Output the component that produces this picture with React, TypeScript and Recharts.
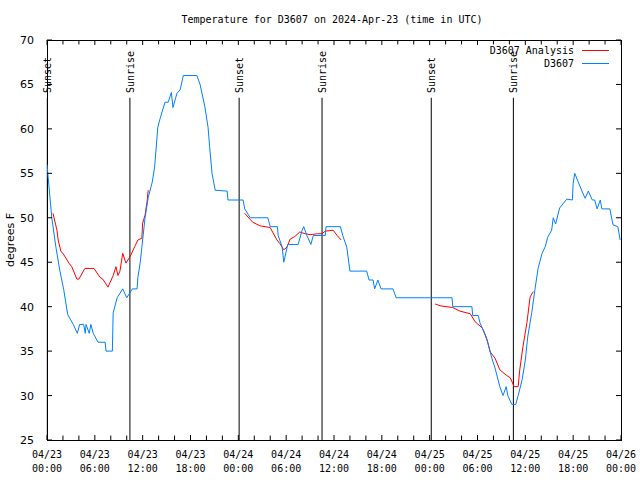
import { LineChart, Line, XAxis, YAxis, ReferenceLine } from "recharts"

// hours since 04/23 00:00 UTC
const obsHours = [0, 0.1, 0.6, 1.1, 1.6, 2.1, 2.6, 3.3, 3.8, 4.1, 4.6, 4.8, 4.9, 5.3, 5.5, 5.8, 6.4, 7.3, 7.4, 8.2, 8.3, 8.8, 9.5, 10.0, 10.7, 11.3, 11.4, 11.7, 11.9, 12.3, 12.7, 13.2, 13.5, 13.9, 14.2, 14.8, 15.2, 15.6, 15.8, 16.3, 16.7, 17.1, 18.8, 19.2, 19.8, 20.2, 20.4, 20.7, 21.1, 22.6, 22.7, 24.6, 24.8, 25.5, 27.7, 28.0, 28.9, 29.0, 29.5, 29.7, 30.2, 31.5, 32.0, 32.2, 32.6, 33.1, 33.4, 34.9, 35.0, 36.8, 37.1, 37.6, 38.0, 40.1, 40.4, 40.9, 41.1, 41.5, 41.9, 43.4, 43.8, 48.0, 50.8, 50.9, 53.3, 53.4, 54.1, 54.3, 54.9, 55.3, 55.8, 56.2, 56.8, 57.2, 57.6, 57.8, 58.3, 58.8, 59.1, 59.6, 60.0, 60.3, 60.8, 61.2, 61.6, 62.1, 62.5, 62.8, 63.3, 63.5, 63.8, 64.3, 65.2, 65.9, 66.0, 66.2, 66.6, 67.2, 67.5, 67.9, 68.4, 68.7, 69.0, 69.4, 69.6, 70.6, 71.0, 71.6, 71.9]
const obsTemps = [56, 55, 50, 46.8, 44.1, 41.9, 39.1, 38, 37, 38, 38, 37, 38, 37, 38, 37, 36, 36, 35, 35, 39.3, 41, 42, 41, 42, 42, 43.3, 45, 46.7, 50, 52.3, 54, 55.7, 60.2, 61.2, 63, 63, 64.1, 62.4, 64, 64.4, 66, 66, 65, 62.5, 60.2, 58, 55, 53.1, 53, 52, 52, 51, 50, 50, 49, 49, 48, 46.7, 45, 47, 47, 48.6, 49, 48, 47, 48, 48, 49, 49, 48, 46.7, 44, 44, 43, 43, 42, 43, 42, 42, 41, 41, 41, 40, 40, 39, 39, 38.2, 37, 35.9, 34.2, 33.1, 31, 30, 31, 30, 29, 29, 30, 31.8, 34, 36.6, 39.3, 41.9, 44.3, 46, 46.75, 47.8, 48.6, 50, 49.3, 51.1, 52.1, 52, 53.9, 55, 54.1, 52.8, 52.2, 53, 52, 52, 51, 52, 51, 51, 49.2, 49, 47.5]

// analysis has gaps (null breaks the line)
const anaHours = [0.75, 1.25, 1.4, 1.75, 2.0, 2.75, 3.1, 3.75, 4.0, 4.75, 5.9, 6.65, 7.0, 7.65, 8.3, 8.65, 8.9, 9.15, 9.5, 9.9, 10.4, 11.0, 11.4, 11.9, 12.0, 12.3, 12.55, 12.7,
  18,
  24.8, 25.5, 25.8, 26.7, 28.0, 28.35, 28.85, 29.2, 29.7, 30.1, 30.5, 31.1, 31.7, 32.4, 33.0, 33.9, 34.5, 34.9, 35.9, 36.4, 36.9,
  42,
  48.7, 49.3, 50.9, 51.8, 53.1, 53.7, 54.6, 55.2, 55.6, 56.2, 56.8, 57.6, 58.1, 58.6, 59.1, 59.3, 59.7, 60.2, 60.6, 61.0]
const anaTemps = [50.5, 48.6, 47.5, 46.2, 46, 44.9, 44.5, 43.1, 43.1, 44.3, 44.3, 43.3, 43.1, 42.2, 43.5, 44.5, 43.5, 44, 46, 44.9, 45.6, 46.75, 47.5, 47.7, 49.4, 50.3, 51.8, 53.1,
  null,
  50.5, 49.8, 49.5, 49.1, 48.9, 48.3, 47.5, 47.1, 46.4, 46.7, 47.6, 47.9, 48.4, 48.2, 48.1, 48.2, 48.2, 48.5, 48.6, 48, 47.5,
  null,
  40.3, 40.1, 39.9, 39.5, 39.2, 38.3, 37.6, 36.3, 34.9, 34.2, 32.9, 32.3, 32, 31, 31, 32.9, 35.5, 38.2, 41.1, 41.7]

const sunHours = [0.04, 10.4, 24.1, 34.5, 48.2, 58.5]
const sunLabels = ["Sunset", "Sunrise", "Sunset", "Sunrise", "Sunset", "Sunrise"]

const xTicks = [0, 6, 12, 18, 24, 30, 36, 42, 48, 54, 60, 66, 72]
const xTickDates = ["04/23", "04/23", "04/23", "04/23", "04/24", "04/24", "04/24", "04/24", "04/25", "04/25", "04/25", "04/25", "04/26"]
const xTickTimes = ["00:00", "06:00", "12:00", "18:00", "00:00", "06:00", "12:00", "18:00", "00:00", "06:00", "12:00", "18:00", "00:00"]
const xMinor = [2, 4, 8, 10, 14, 16, 20, 22, 26, 28, 32, 34, 38, 40, 44, 46, 50, 52, 56, 58, 62, 64, 68, 70]
const yTicks = [25, 30, 35, 40, 45, 50, 55, 60, 65, 70]

const obsData = obsHours.map((h, i) => ({ h, t: obsTemps[i] }))
const anaData = anaHours.map((h, i) => ({ h, t: anaTemps[i] }))

const mono = "'DejaVu Sans Mono', monospace"
const sans = "'DejaVu Sans', sans-serif"

const XTick = (props: any) => {
  const { x, y, payload } = props
  const i = xTicks.indexOf(payload.value)
  return (
    <g>
      <line x1={x} x2={x} y1={y - 8} y2={y - 13} stroke="#000" />
      <line x1={x} x2={x} y1={40} y2={45} stroke="#000" />
      <text x={x} y={y + 10} textAnchor="middle" fontFamily={mono} fontSize={10} fill="#000">{xTickDates[i]}</text>
      <text x={x} y={y + 24} textAnchor="middle" fontFamily={mono} fontSize={10} fill="#000">{xTickTimes[i]}</text>
    </g>
  )
}

const YTick = (props: any) => {
  const { x, y, payload } = props
  return (
    <g>
      <line x1={47} x2={52} y1={y} y2={y} stroke="#000" />
      <line x1={616} x2={621} y1={y} y2={y} stroke="#000" />
      <text x={x - 5} y={y + 4} textAnchor="end" fontFamily={sans} fontSize={11} fill="#000">{payload.value}</text>
    </g>
  )
}

const SunLabel = (text: string) => (props: any) => {
  const { viewBox } = props
  const x = viewBox.x + 4
  const y = 93
  return (
    <text x={x} y={y} transform={`rotate(-90 ${x} ${y})`} fontFamily={mono} fontSize={10} fill="#000">{text}</text>
  )
}

export default function App() {
  return (
    <div style={{ position: "absolute", left: 0, top: 0, width: 640, height: 480, background: "#fff" }}>
      <LineChart width={640} height={480} margin={{ top: 40, right: 19, bottom: 0, left: 0 }}>
        <text x={332} y={23} textAnchor="middle" fontFamily={mono} fontSize={10} fill="#000">
          Temperature for D3607 on 2024-Apr-23 (time in UTC)
        </text>
        <text x={14} y={240} transform="rotate(-90 14 240)" textAnchor="middle" fontFamily={sans} fontSize={11} fill="#000">
          degrees F
        </text>
        <XAxis dataKey="h" type="number" domain={[0, 72]} ticks={xTicks} allowDataOverflow
          height={40} axisLine={false} tickLine={false} tick={<XTick />} interval={0} />
        <YAxis type="number" domain={[25, 70]} ticks={yTicks} width={47} allowDataOverflow
          axisLine={false} tickLine={false} tick={<YTick />} interval={0} />
        {xMinor.map((h) => (
          <ReferenceLine key={"mb" + h} segment={[{ x: h, y: 25 }, { x: h, y: 25.5 }]} stroke="#000" strokeWidth={1} />
        ))}
        {xMinor.map((h) => (
          <ReferenceLine key={"mt" + h} segment={[{ x: h, y: 70 }, { x: h, y: 69.5 }]} stroke="#000" strokeWidth={1} />
        ))}
        {sunHours.map((h, i) => (
          <ReferenceLine key={"s" + i} segment={[{ x: h, y: 63.5 }, { x: h, y: 25 }]} stroke="#000" strokeWidth={1}
            label={SunLabel(sunLabels[i])} />
        ))}
        <Line data={anaData} dataKey="t" type="linear" stroke="#ff0000" strokeWidth={1} dot={false}
          connectNulls={false} isAnimationActive={false} />
        <Line data={obsData} dataKey="t" type="linear" stroke="#0080ff" strokeWidth={1} dot={false}
          isAnimationActive={false} />
        <rect x={47.5} y={40.5} width={574} height={400} fill="none" stroke="#000" strokeWidth={1} />
        <text x={574} y={54} textAnchor="end" fontFamily={mono} fontSize={10} fill="#000">D3607 Analysis</text>
        <line x1={582} x2={609} y1={50.5} y2={50.5} stroke="#ff0000" />
        <text x={574} y={67} textAnchor="end" fontFamily={mono} fontSize={10} fill="#000">D3607</text>
        <line x1={582} x2={609} y1={63.5} y2={63.5} stroke="#0080ff" />
      </LineChart>
    </div>
  )
}
